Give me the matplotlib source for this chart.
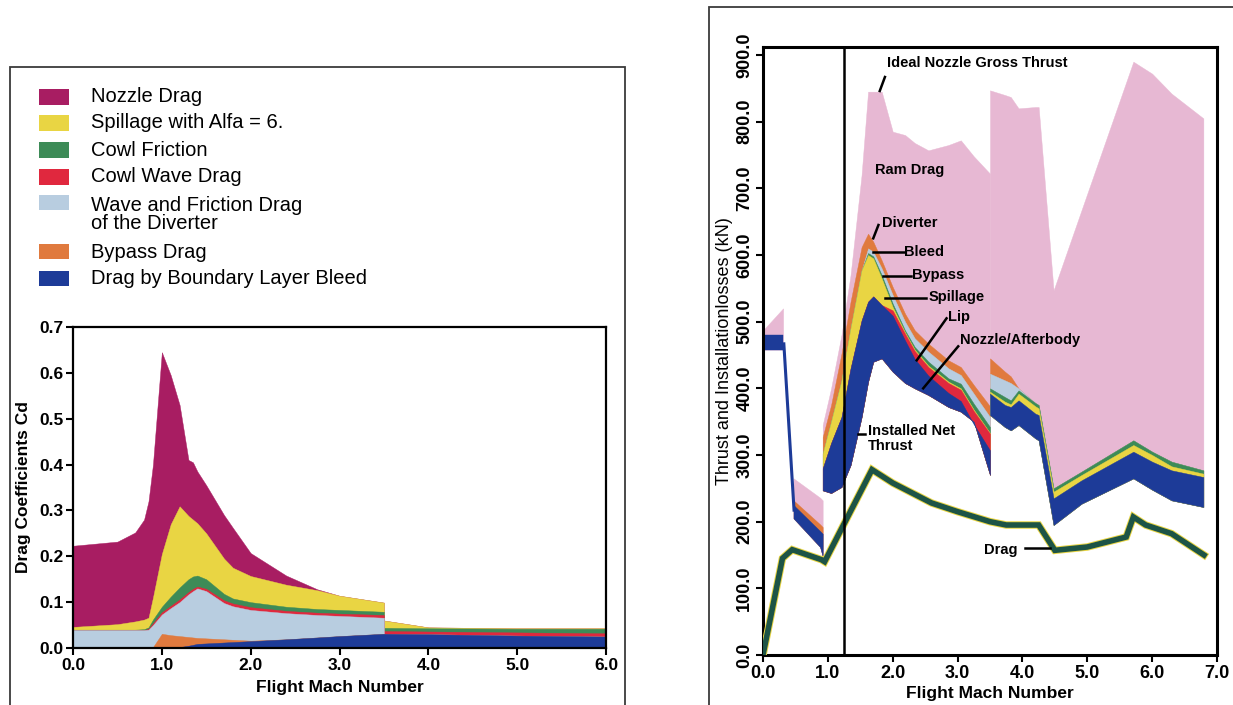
"""
Two-panel figure: intake/nozzle drag build-up (left) and thrust with
installation losses (right) over flight Mach number.
"""

import matplotlib.pyplot as plt
from matplotlib.patches import Rectangle

plt.rcParams["font.family"] = ["Liberation Sans", "DejaVu Sans"]

# ---------------- left panel: cumulative drag coefficient tops ----------------
mach_l = [0.0, 0.5, 0.7, 0.8, 0.85, 0.9, 1.0, 1.1, 1.2, 1.3, 1.35, 1.4,
          1.5, 1.7, 1.8, 2.0, 2.4, 2.75, 3.0, 3.5, 3.5, 4.0, 5.0, 6.0]
bleed_top = [0, 0, 0, 0, 0, 0, 0, 0, 0.002, 0.005, 0.007, 0.009,
             0.010, 0.012, 0.013, 0.015, 0.019, 0.023, 0.026, 0.031, 0.031, 0.030, 0.027, 0.025]
bypass_top = [0, 0, 0, 0, 0, 0.002, 0.031, 0.028, 0.026, 0.024, 0.023, 0.022,
              0.021, 0.019, 0.018, 0.016, 0.019, 0.023, 0.026, 0.031, 0.031, 0.030, 0.027, 0.025]
diverter_top = [0.039, 0.039, 0.039, 0.039, 0.040, 0.050, 0.073, 0.087, 0.100, 0.117, 0.124, 0.130,
                0.124, 0.098, 0.091, 0.083, 0.076, 0.072, 0.070, 0.066, 0.031, 0.030, 0.027, 0.025]
wave_top = [0.039, 0.039, 0.039, 0.039, 0.042, 0.054, 0.078, 0.092, 0.106, 0.122, 0.129, 0.134,
            0.129, 0.104, 0.097, 0.089, 0.081, 0.077, 0.075, 0.072, 0.037, 0.036, 0.034, 0.032]
friction_top = [0.040, 0.040, 0.040, 0.041, 0.045, 0.062, 0.090, 0.112, 0.132, 0.150, 0.156, 0.158,
                0.150, 0.118, 0.108, 0.100, 0.090, 0.085, 0.083, 0.079, 0.044, 0.043, 0.042, 0.042]
spill_top = [0.046, 0.052, 0.058, 0.062, 0.066, 0.110, 0.205, 0.270, 0.309, 0.288, 0.280, 0.272,
             0.250, 0.195, 0.175, 0.157, 0.138, 0.126, 0.114, 0.099, 0.060, 0.045, 0.043, 0.043]
nozzle_top = [0.223, 0.232, 0.252, 0.280, 0.320, 0.400, 0.645, 0.595, 0.530, 0.410, 0.405, 0.385,
              0.355, 0.290, 0.262, 0.207, 0.158, 0.128, 0.114, 0.099, 0.060, 0.045, 0.043, 0.043]

legend_labels = ["Nozzle Drag", "Spillage with Alfa = 6.", "Cowl Friction", "Cowl Wave Drag",
                 "Wave and Friction Drag\nof the Diverter", "Bypass Drag",
                 "Drag by Boundary Layer Bleed"]
l_xticks = [0, 1, 2, 3, 4, 5, 6]
l_xlabels = ["0.0", "1.0", "2.0", "3.0", "4.0", "5.0", "6.0"]
l_yticks = [0, 0.1, 0.2, 0.3, 0.4, 0.5, 0.6, 0.7]
l_ylabels = ["0.0", "0.1", "0.2", "0.3", "0.4", "0.5", "0.6", "0.7"]

# ---------------- right panel: thrust and installation losses (kN) ----------------
# segment A (subsonic, low Mach)
mach_a = [0.0, 0.31]
gross_a = [487, 520]
nozzle_top_a = [480, 480]
net_a = [458, 458]
link_mach = [0.32, 0.48]
link_kn = [469, 215]

# segment B
mach_b = [0.47, 0.88, 0.92]
gross_b = [265, 236, 232]
diverter_top_b = [232, 196, 192]
nozzle_top_b = [225, 186, 182]
net_b = [205, 162, 148]

# segment C
mach_c = [0.92, 1.05, 1.21, 1.35, 1.52, 1.62, 1.7, 1.83, 2.0, 2.19, 2.34, 2.55, 2.86, 3.05, 3.25, 3.5]
gross_c = [345, 400, 480, 570, 720, 845, 845, 845, 785, 780, 768, 757, 765, 772, 748, 722]
diverter_top_c = [327, 375, 452, 530, 612, 632, 620, 592, 552, 512, 487, 467, 442, 432, 405, 373]
bleed_top_c = [302, 350, 412, 490, 577, 610, 605, 580, 540, 500, 475, 455, 430, 420, 392, 357]
bypass_top_c = [302, 350, 412, 490, 577, 603, 598, 570, 527, 487, 462, 440, 415, 407, 377, 342]
spill_top_c = [302, 350, 412, 490, 577, 600, 595, 565, 522, 484, 458, 434, 410, 400, 368, 333]
lip_top_c = [280, 318, 357, 430, 502, 530, 538, 525, 517, 482, 456, 432, 408, 398, 366, 332]
nozzle_top_c = [280, 318, 357, 430, 502, 530, 538, 525, 509, 472, 444, 419, 393, 381, 346, 307]
net_c = [247, 243, 252, 285, 357, 410, 440, 445, 425, 408, 400, 390, 372, 365, 350, 270]

# segment D
mach_d = [3.5, 3.73, 3.82, 3.94, 4.2, 4.25, 4.48, 4.91, 5.71, 6.0, 6.3, 6.79]
gross_d = [847, 840, 837, 820, 822, 822, 547, 667, 890, 872, 842, 805]
diverter_top_d = [445, 425, 418, 400, 378, 375, 250, 275, 322, 305, 290, 277]
bleed_top_d = [422, 412, 408, 400, 378, 375, 250, 275, 322, 305, 290, 277]
bypass_top_d = [400, 387, 382, 397, 378, 375, 250, 275, 322, 305, 290, 277]
spill_top_d = [395, 380, 376, 392, 373, 370, 245, 270, 315, 300, 283, 272]
nozzle_top_d = [392, 375, 372, 382, 362, 360, 235, 262, 305, 290, 277, 267]
net_d = [360, 342, 337, 345, 325, 322, 195, 227, 265, 248, 232, 222]

# installed drag
drag_mach = [0.0, 0.3, 0.45, 0.9, 0.95, 1.68, 2.0, 2.6, 3.0, 3.5, 3.75, 4.25,
             4.5, 5.0, 5.6, 5.71, 5.9, 6.3, 6.8]
drag_kn = [0, 145, 158, 143, 140, 278, 258, 228, 215, 200, 195, 195,
           157, 162, 177, 207, 195, 182, 150]

r_xticks = [0, 1, 2, 3, 4, 5, 6, 7]
r_xlabels = ["0.0", "1.0", "2.0", "3.0", "4.0", "5.0", "6.0", "7.0"]
r_yticks = [0, 100, 200, 300, 400, 500, 600, 700, 800, 900]
r_ylabels = ["0.0", "100.0", "200.0", "300.0", "400.0", "500.0", "600.0", "700.0", "800.0", "900.0"]

# colours
MAGENTA = "#a81d62"
YELLOW = "#e9d543"
GREEN = "#3d8b57"
RED = "#e0283e"
LIGHTBLUE = "#b8cde0"
ORANGE = "#e07a3e"
BLUE = "#1d3b98"
PINK = "#e7b8d3"
TEAL = "#1d5446"

W, H = 1233, 705


def fx(px):
    return px / W


def fy(py):
    return 1 - py / H


def paint(ax, x, base, tops, colors):
    # painter's order: highest boundary first, each fill starts at the base
    for top, c in zip(tops, colors):
        ax.fill_between(x, base, top, color=c, lw=0.3)


def main() -> None:
    fig = plt.figure(figsize=(W / 100, H / 100), dpi=100)

    # panel frames
    fig.patches.append(Rectangle((fx(10), fy(712)), 615 / W, (712 - 67) / H,
                                 transform=fig.transFigure, fill=False, lw=1.3, ec="#3a3a3a"))
    fig.patches.append(Rectangle((fx(709), fy(712)), 540 / W, (712 - 7) / H,
                                 transform=fig.transFigure, fill=False, lw=1.3, ec="#3a3a3a"))

    # ---------------- left chart ----------------
    ax1 = fig.add_axes([fx(73), fy(648), (606 - 73) / W, (648 - 327) / H])
    zeros = [0.0] * len(mach_l)
    paint(ax1, mach_l, zeros,
          [nozzle_top, spill_top, friction_top, wave_top, diverter_top, bypass_top, bleed_top],
          [MAGENTA, YELLOW, GREEN, RED, LIGHTBLUE, ORANGE, BLUE])
    ax1.set_xlim(0, 6)
    ax1.set_ylim(0, 0.7)
    ax1.set_xticks(l_xticks)
    ax1.set_xticklabels(l_xlabels)
    ax1.set_yticks(l_yticks)
    ax1.set_yticklabels(l_ylabels)
    ax1.set_xlabel("Flight Mach Number", fontsize=12.5, fontweight="bold", labelpad=5)
    ax1.set_ylabel("Drag Coefficients Cd", fontsize=12.5, fontweight="bold", labelpad=6)

    # legend, drawn by hand in figure pixels
    legend_colors = [MAGENTA, YELLOW, GREEN, RED, LIGHTBLUE, ORANGE, BLUE]
    rows = [97, 123, 150, 177, 203, 252, 278]
    for lab, c, yc in zip(legend_labels, legend_colors, rows):
        fig.patches.append(Rectangle((fx(39), fy(yc + 7.5)), 30 / W, 15 / H,
                                     transform=fig.transFigure, color=c, lw=0))
        if "\n" in lab:
            fig.text(fx(91), fy(yc - 7), lab, fontsize=14.5, va="top", ha="left",
                     linespacing=0.95)
        else:
            fig.text(fx(91), fy(yc), lab, fontsize=14.5, va="center", ha="left")

    # ---------------- right chart ----------------
    ax2 = fig.add_axes([fx(763), fy(655), (1217 - 763) / W, (655 - 47) / H])

    paint(ax2, mach_a, net_a, [gross_a, nozzle_top_a], [PINK, BLUE])
    ax2.plot(link_mach, link_kn, color=BLUE, lw=2.2, solid_capstyle="butt")
    paint(ax2, mach_b, net_b, [gross_b, diverter_top_b, nozzle_top_b], [PINK, ORANGE, BLUE])
    paint(ax2, mach_c, net_c,
          [gross_c, diverter_top_c, bleed_top_c, bypass_top_c, spill_top_c, lip_top_c, nozzle_top_c],
          [PINK, ORANGE, LIGHTBLUE, GREEN, YELLOW, RED, BLUE])
    paint(ax2, mach_d, net_d,
          [gross_d, diverter_top_d, bleed_top_d, bypass_top_d, spill_top_d, nozzle_top_d],
          [PINK, ORANGE, LIGHTBLUE, GREEN, YELLOW, BLUE])

    ax2.plot(drag_mach, drag_kn, color=YELLOW, lw=5.4, solid_joinstyle="miter", zorder=4)
    ax2.plot(drag_mach, drag_kn, color=TEAL, lw=4.0, solid_joinstyle="miter", zorder=5)
    ax2.axvline(1.25, color="black", lw=1.8, zorder=6)

    ax2.set_xlim(0, 7)
    ax2.set_ylim(0, 912)
    ax2.set_xticks(r_xticks)
    ax2.set_xticklabels(r_xlabels)
    ax2.set_yticks(r_yticks)
    ax2.set_yticklabels(r_ylabels, rotation=90, va="center")
    ax2.set_xlabel("Flight Mach Number", fontsize=12.5, fontweight="bold", labelpad=3)
    ax2.set_ylabel("Thrust and Installationlosses (kN)", fontsize=13, labelpad=2)

    # callouts
    txt = dict(fontsize=10.5, fontweight="bold", va="center", ha="left", zorder=7)
    line = dict(color="black", lw=1.8, zorder=7)
    ax2.plot([1.80, 1.88], [846, 867], **line)
    ax2.text(1.91, 888, "Ideal Nozzle Gross Thrust", **txt)
    ax2.text(1.73, 727, "Ram Drag", **txt)
    ax2.plot([1.70, 1.78], [625, 645], **line)
    ax2.text(1.83, 648, "Diverter", **txt)
    ax2.plot([1.70, 2.17], [605, 605], **line)
    ax2.text(2.18, 605, "Bleed", **txt)
    ax2.plot([1.85, 2.28], [569, 569], **line)
    ax2.text(2.30, 570, "Bypass", **txt)
    ax2.plot([1.88, 2.52], [536, 536], **line)
    ax2.text(2.56, 537, "Spillage", **txt)
    ax2.plot([2.37, 2.83], [442, 505], **line)
    ax2.text(2.86, 507, "Lip", **txt)
    ax2.plot([2.47, 3.01], [400, 463], **line)
    ax2.text(3.04, 472, "Nozzle/Afterbody", **txt)
    ax2.plot([1.47, 1.57], [332, 332], **line)
    ax2.text(1.62, 346, "Installed Net\nThrust", fontsize=10.5, fontweight="bold",
             va="top", ha="left", linespacing=1.05, zorder=7)
    ax2.plot([4.04, 4.42], [161, 161], **line)
    ax2.text(3.41, 157, "Drag", **txt)

    for ax, lw, size in ((ax1, 1.6, 12.5), (ax2, 2.2, 13)):
        for sp in ax.spines.values():
            sp.set_linewidth(lw)
            sp.set_color("black")
        ax.tick_params(direction="out", length=5, width=1.5, labelsize=size, pad=2)
        for lab in ax.get_xticklabels() + ax.get_yticklabels():
            lab.set_fontweight("bold")

    fig.savefig("out.png", dpi=100)
    plt.close(fig)


if __name__ == "__main__":
    main()
